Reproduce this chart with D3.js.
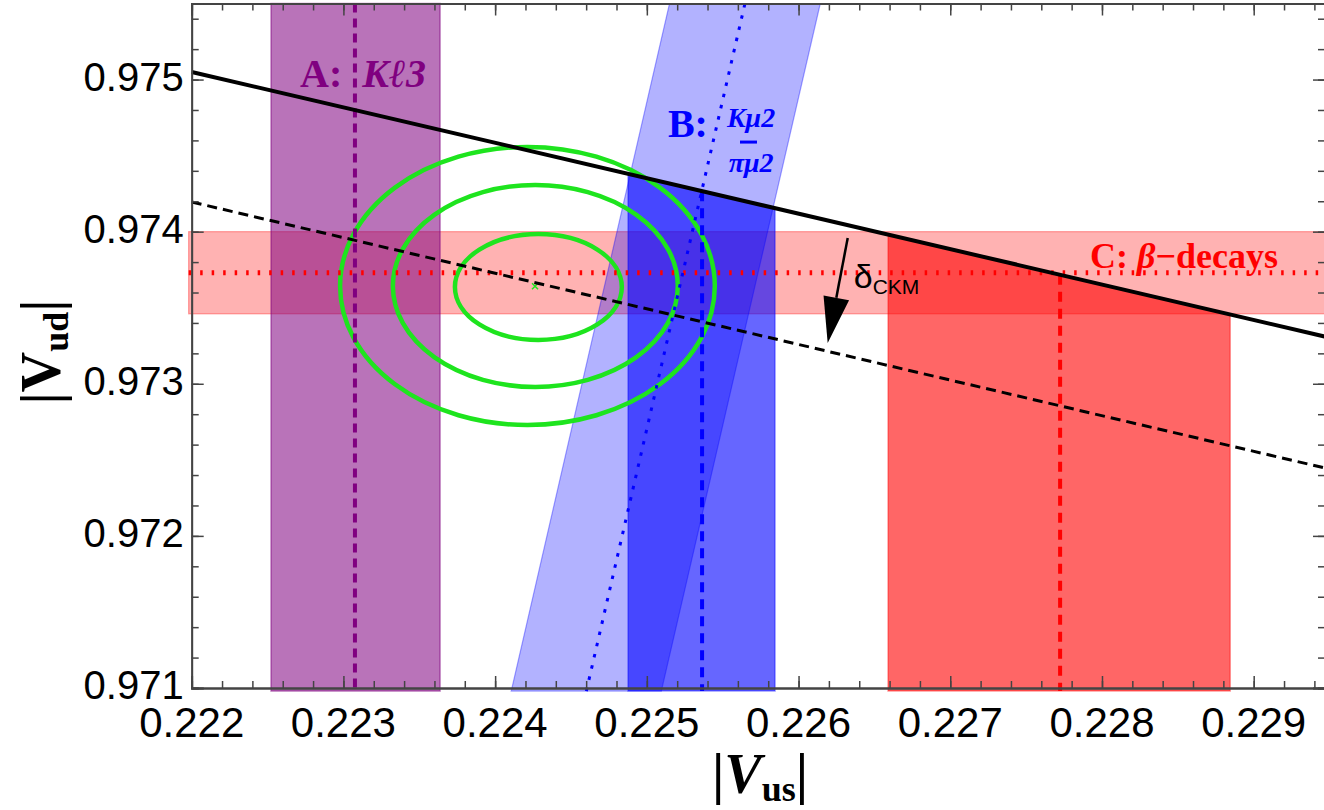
<!DOCTYPE html>
<html>
<head>
<meta charset="utf-8">
<script src="https://cdn.jsdelivr.net/npm/d3@7"></script>
<style>
body { margin: 0; background: #fff; }
svg { display: block; }
.serif { font-family: "Liberation Serif", "DejaVu Serif", serif; font-weight: bold; }
.sans { font-family: "Liberation Sans", Arial, sans-serif; }
</style>
</head>
<body>
<svg id="chart" width="1324" height="810"></svg>
<script>
// plot range and ticks
var xDomain = [0.222, 0.22947];
var yDomain = [0.971, 0.9755];
var xMajor = [0.222, 0.223, 0.224, 0.225, 0.226, 0.227, 0.228, 0.229];
var yMajor = [0.971, 0.972, 0.973, 0.974, 0.975];
var minorStep = 0.0002;

// bands run a little past the frame (left / bottom)
var bandFloor = 0.97098;
var bandLeft = 0.22198;

// unitarity line and the shifted (delta_CKM) line, end points
var unitarity = [[0.222, 0.97505], [0.22947, 0.97331]];
var shifted = [[0.222, 0.974195], [0.22947, 0.972446]];

// A: K l3 band in |Vus|
var bandA = [0.222523, 0.223637];
var centerA = 0.223076;

// B: K mu2 / pi mu2, ratio band |Vus|/|Vud| and its projection on the unitarity line
var ratioBand = [0.230804, 0.231823];
var ratioCenter = 0.231314;
var bandB = [0.224876, 0.225845];
var centerB = 0.225364;

// C: beta decays, band in |Vud| and its projection
var betaBand = [0.97346, 0.974];
var betaCenter = 0.97373;
var bandC = [0.22659, 0.228845];
var centerC = 0.227724;

// fit contours
var ellipses = [
    { cx: 0.224285, cy: 0.973636, rx: 0.000550, ry: 0.000348 },
    { cx: 0.224265, cy: 0.973643, rx: 0.000939, ry: 0.000664 },
    { cx: 0.224213, cy: 0.973643, rx: 0.001235, ry: 0.000914 }
];
var bestFit = [0.224263, 0.973641];

// delta_CKM arrow
var deltaArrow = [[0.226324, 0.973958], [0.226192, 0.973268]];

var svg = d3.select("#chart");

var x = d3.scaleLinear().domain(xDomain).range([191.7, 1325]);
var y = d3.scaleLinear().domain(yDomain).range([688, 3.5]);

var yTop = yDomain[1];
var lineAt = function(pts, vus) {
    return d3.scaleLinear().domain([pts[0][0], pts[1][0]]).range([pts[0][1], pts[1][1]])(vus);
};
var poly = function(pts) {
    return pts.map(p => x(p[0]) + "," + y(p[1])).join(" ");
};

var plot = svg.append("g");

// C horizontal band
plot.append("rect")
    .attr("x", x(bandLeft))
    .attr("width", x(xDomain[1]) - x(bandLeft))
    .attr("y", y(betaBand[1]))
    .attr("height", y(betaBand[0]) - y(betaBand[1]))
    .attr("fill", "rgba(255,0,0,0.3)")
    .attr("stroke", "rgba(255,0,0,0.35)")
    .attr("stroke-width", 1.2);

// A band
plot.append("rect")
    .attr("x", x(bandA[0]))
    .attr("width", x(bandA[1]) - x(bandA[0]))
    .attr("y", y(yTop))
    .attr("height", y(bandFloor) - y(yTop))
    .attr("fill", "rgba(128,0,128,0.55)")
    .attr("stroke", "rgba(128,0,128,0.5)")
    .attr("stroke-width", 1.5);

// B slanted ratio band
plot.append("polygon")
    .attr("points", poly([
        [ratioBand[0] * bandFloor, bandFloor],
        [ratioBand[0] * yTop, yTop],
        [ratioBand[1] * yTop, yTop],
        [ratioBand[1] * bandFloor, bandFloor]
    ]))
    .attr("fill", "rgba(0,0,255,0.3)")
    .attr("stroke", "rgba(0,0,255,0.35)")
    .attr("stroke-width", 1.2);

// projections under the unitarity line
var projBand = function(b, fill, stroke) {
    plot.append("polygon")
        .attr("points", poly([
            [b[0], bandFloor],
            [b[0], lineAt(unitarity, b[0])],
            [b[1], lineAt(unitarity, b[1])],
            [b[1], bandFloor]
        ]))
        .attr("fill", fill)
        .attr("stroke", stroke)
        .attr("stroke-width", 1.5);
};
projBand(bandB, "rgba(0,0,255,0.6)", "rgba(0,0,255,0.4)");
projBand(bandC, "rgba(255,0,0,0.6)", "rgba(255,0,0,0.4)");

// contours
plot.selectAll(".ell")
    .data(ellipses)
    .enter()
    .append("ellipse")
    .attr("cx", d => x(d.cx))
    .attr("cy", d => y(d.cy))
    .attr("rx", d => x(d.cx + d.rx) - x(d.cx))
    .attr("ry", d => y(d.cy) - y(d.cy + d.ry))
    .attr("fill", "none")
    .attr("stroke", "#1ee41e")
    .attr("stroke-width", 4.5);

var bx = x(bestFit[0]), by = y(bestFit[1]);
plot.append("path")
    .attr("d", `M${bx - 3},${by - 3}L${bx + 3},${by + 3}M${bx - 3},${by + 3}L${bx + 3},${by - 3}`)
    .attr("stroke", "#1ee41e")
    .attr("stroke-width", 1.5);

// central values
var seg = function(p, color, width, dash) {
    plot.append("line")
        .attr("x1", x(p[0][0])).attr("y1", y(p[0][1]))
        .attr("x2", x(p[1][0])).attr("y2", y(p[1][1]))
        .attr("stroke", color)
        .attr("stroke-width", width)
        .attr("stroke-dasharray", dash);
};
seg([[centerA, yTop], [centerA, bandFloor]], "#800080", 4, "9,6");
seg([[centerB, lineAt(unitarity, centerB)], [centerB, bandFloor]], "#0000ff", 4, "10,7");
seg([[bandLeft, betaCenter], [xDomain[1], betaCenter]], "#ff0000", 5, "2.5,9");
seg([[centerC, lineAt(unitarity, centerC)], [centerC, bandFloor]], "#ff0000", 4, "10,7");

// unitarity lines
seg(shifted, "#000", 3, "10,6");
seg(unitarity, "#000", 4, null);
seg([[ratioCenter * bandFloor, bandFloor], [ratioCenter * yTop, yTop]], "#0000ff", 3, "3.5,8");

// arrow
var ax0 = x(deltaArrow[0][0]), ay0 = y(deltaArrow[0][1]);
var ax1 = x(deltaArrow[1][0]), ay1 = y(deltaArrow[1][1]);
var len = Math.hypot(ax1 - ax0, ay1 - ay0);
var ux = (ax1 - ax0) / len, uy = (ay1 - ay0) / len;
var hl = 46, hw = 13;
plot.append("line")
    .attr("x1", ax0).attr("y1", ay0)
    .attr("x2", ax1 - ux * hl).attr("y2", ay1 - uy * hl)
    .attr("stroke", "#000")
    .attr("stroke-width", 2.5);
plot.append("polygon")
    .attr("points", [
        [ax1, ay1],
        [ax1 - ux * hl - uy * hw, ay1 - uy * hl + ux * hw],
        [ax1 - ux * hl + uy * hw, ay1 - uy * hl - ux * hw]
    ].map(p => p.join(",")).join(" "))
    .attr("fill", "#000");

var dl = svg.append("text")
    .attr("class", "sans")
    .attr("x", ax0 + 6)
    .attr("y", ay0 + 50)
    .attr("font-size", 34);
dl.append("tspan").text("δ");
dl.append("tspan").attr("font-size", 21).attr("dy", 6).text("CKM");

// frame and ticks
var frame = svg.append("g").attr("color", "#444");
var minorX = d3.range(xDomain[0], xDomain[1], minorStep);
var minorY = d3.range(yDomain[0], yDomain[1], minorStep);

var addAxis = function(axis, tr, values, size) {
    var g = frame.append("g")
        .attr("transform", tr)
        .call(axis.tickValues(values).tickSize(-size).tickFormat(""));
    g.selectAll("line").attr("stroke-width", 1.5);
    g.select(".domain").attr("stroke-width", 1.8);
    return g;
};
var b = y.range()[0], t = y.range()[1], l = x.range()[0], r = x.range()[1];
addAxis(d3.axisBottom(x), `translate(0,${b})`, minorX, 7);
addAxis(d3.axisBottom(x), `translate(0,${b})`, xMajor, 12);
addAxis(d3.axisTop(x), `translate(0,${t})`, minorX, 7);
addAxis(d3.axisTop(x), `translate(0,${t})`, xMajor, 12);
addAxis(d3.axisLeft(y), `translate(${l},0)`, minorY, 7);
addAxis(d3.axisLeft(y), `translate(${l},0)`, yMajor, 12);
addAxis(d3.axisRight(y), `translate(${r},0)`, minorY, 7);
addAxis(d3.axisRight(y), `translate(${r},0)`, yMajor, 12);

// tick labels
svg.append("g")
    .selectAll("text")
    .data(xMajor)
    .enter()
    .append("text")
    .attr("class", "sans")
    .attr("x", d => x(d))
    .attr("y", b + 49)
    .attr("text-anchor", "middle")
    .attr("font-size", 42)
    .text(d => d3.format(".3f")(d));

svg.append("g")
    .selectAll("text")
    .data(yMajor)
    .enter()
    .append("text")
    .attr("class", "sans")
    .attr("x", l - 8)
    .attr("y", d => y(d) + 11)
    .attr("text-anchor", "end")
    .attr("font-size", 40)
    .text(d => d3.format(".3f")(d));

// axis titles
var xt = svg.append("text")
    .attr("class", "serif")
    .attr("x", 760)
    .attr("y", 793)
    .attr("text-anchor", "middle")
    .attr("font-size", 56);
xt.append("tspan").text("|");
xt.append("tspan").attr("font-style", "italic").text("V");
xt.append("tspan").attr("font-size", 36).attr("dy", 8).text("us");
xt.append("tspan").attr("dy", -8).text("|");

var yt = svg.append("text")
    .attr("class", "serif")
    .attr("transform", "translate(60,352) rotate(-90)")
    .attr("text-anchor", "middle")
    .attr("font-size", 56);
yt.append("tspan").text("|V");
yt.append("tspan").attr("font-size", 36).attr("dy", 8).text("ud");
yt.append("tspan").attr("dy", -8).text("|");

// band labels
var la = svg.append("text")
    .attr("class", "serif")
    .attr("x", x(0.222714))
    .attr("y", y(0.974951))
    .attr("font-size", 40)
    .attr("fill", "#800080");
la.append("tspan").text("A:");
la.append("tspan").attr("dx", 20).attr("font-style", "italic").text("Kℓ3");

svg.append("text")
    .attr("class", "serif")
    .attr("x", x(0.225139))
    .attr("y", y(0.974622))
    .attr("font-size", 40)
    .attr("fill", "#0000ff")
    .text("B:");
svg.append("text")
    .attr("class", "serif")
    .attr("x", x(0.225687))
    .attr("y", y(0.974688))
    .attr("text-anchor", "middle")
    .attr("font-size", 28)
    .attr("font-style", "italic")
    .attr("fill", "#0000ff")
    .text("Kμ2");
svg.append("line")
    .attr("x1", x(0.225614)).attr("x2", x(0.225726))
    .attr("y1", y(0.974589)).attr("y2", y(0.974589))
    .attr("stroke", "#0000ff")
    .attr("stroke-width", 3);
svg.append("text")
    .attr("class", "serif")
    .attr("x", x(0.225687))
    .attr("y", y(0.974392))
    .attr("text-anchor", "middle")
    .attr("font-size", 28)
    .attr("font-style", "italic")
    .attr("fill", "#0000ff")
    .text("πμ2");

var lc = svg.append("text")
    .attr("class", "serif")
    .attr("x", x(0.227921))
    .attr("y", y(0.973761))
    .attr("font-size", 36)
    .attr("fill", "#ff0000");
lc.append("tspan").text("C: ");
lc.append("tspan").attr("font-style", "italic").text("β");
lc.append("tspan").text("−decays");
</script>
</body>
</html>
